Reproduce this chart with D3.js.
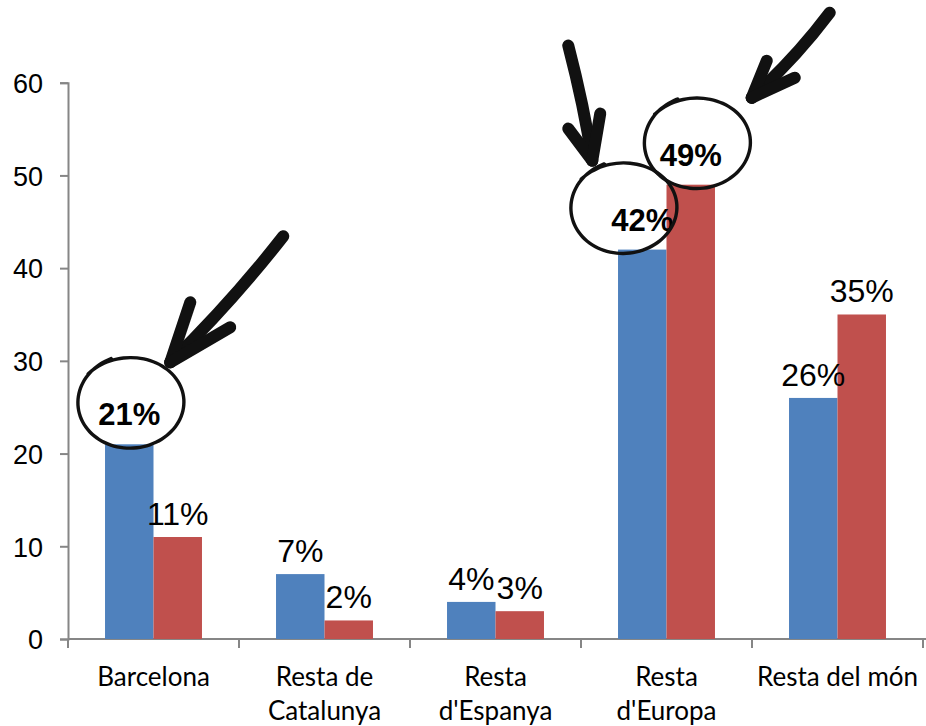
<!DOCTYPE html>
<html>
<head>
<meta charset="utf-8">
<script src="https://cdn.jsdelivr.net/npm/d3@7/dist/d3.min.js"></script>
<style>
  body { margin: 0; background: #fff; }
  svg text { fill: #000; }
</style>
</head>
<body>
<div id="vis"></div>
<script>
// chart data
var categories = ["Barcelona", "Resta de\nCatalunya", "Resta\nd'Espanya", "Resta\nd'Europa", "Resta del món"];
var seriesBlue = [21, 7, 4, 42, 26];
var seriesRed = [11, 2, 3, 49, 35];
var yTicks = [0, 10, 20, 30, 40, 50, 60];
// which labels were circled by hand: [category index, series index]
var circled = [[0, 0], [3, 0], [3, 1]];

var width = 926;
var height = 726;
var margin = { top: 82.7, right: 3, bottom: 87, left: 68 };

var colors = ["#4F81BD", "#C0504D"];
var axisColor = "#868686";
var ink = "#111";

var svg = d3.select("#vis").append("svg")
  .attr("width", width)
  .attr("height", height);

var x = d3.scaleBand()
  .domain(d3.range(categories.length))
  .range([margin.left, width - margin.right])
  .paddingInner(0.433)
  .paddingOuter(0.2165);

var xSeries = d3.scaleBand()
  .domain([0, 1])
  .range([0, x.bandwidth()]);

var y = d3.scaleLinear()
  .domain([0, 60])
  .range([height - margin.bottom, margin.top]);

// y axis
var yAxis = svg.append("g")
  .attr("transform", "translate(" + margin.left + ",0)")
  .call(d3.axisLeft(y).tickValues(yTicks).tickSize(8).tickPadding(17).tickFormat(d3.format("d")));
yAxis.select(".domain").attr("stroke", axisColor).attr("stroke-width", 2);
yAxis.selectAll(".tick line").attr("stroke", axisColor).attr("stroke-width", 2);
yAxis.selectAll(".tick text")
  .attr("font-family", "'Liberation Sans', Arial, sans-serif")
  .attr("font-size", 27)
  .attr("dy", "0.36em");

// x axis: ticks on the category boundaries
var step = x.step();
var boundaries = d3.range(categories.length + 1).map(function (i) { return margin.left + i * step; });
var xAxis = svg.append("g");
xAxis.append("line")
  .attr("x1", margin.left).attr("x2", width)
  .attr("y1", y(0)).attr("y2", y(0))
  .attr("stroke", axisColor).attr("stroke-width", 2);
xAxis.selectAll(".xtick").data(boundaries).enter().append("line")
  .attr("class", "xtick")
  .attr("x1", function (d) { return d; }).attr("x2", function (d) { return d; })
  .attr("y1", y(0)).attr("y2", y(0) + 9)
  .attr("stroke", axisColor).attr("stroke-width", 2);

var catLabels = xAxis.selectAll(".cat").data(categories).enter().append("text")
  .attr("class", "cat")
  .attr("text-anchor", "middle")
  .attr("font-family", "Lato, 'Open Sans', sans-serif")
  .attr("font-size", 26)
  .attr("transform", function (d, i) {
    return "translate(" + (x(i) + x.bandwidth() / 2) + "," + (y(0) + 47) + ")";
  });
catLabels.selectAll("tspan")
  .data(function (d) { return d.split("\n"); })
  .enter().append("tspan")
  .attr("x", 0)
  .attr("dy", function (d, i) { return i === 0 ? 0 : 34; })
  .text(function (d) { return d; });

// bars
var rows = categories.map(function (c, i) {
  return [
    { cat: i, s: 0, value: seriesBlue[i] },
    { cat: i, s: 1, value: seriesRed[i] }
  ];
});

function isCircled(d) {
  return circled.some(function (c) { return c[0] === d.cat && c[1] === d.s; });
}

var groups = svg.selectAll(".group").data(rows).enter().append("g")
  .attr("class", "group")
  .attr("transform", function (d, i) { return "translate(" + x(i) + ",0)"; });

groups.selectAll("rect").data(function (d) { return d; }).enter().append("rect")
  .attr("x", function (d) { return xSeries(d.s); })
  .attr("y", function (d) { return y(d.value); })
  .attr("width", xSeries.bandwidth())
  .attr("height", function (d) { return y(0) - y(d.value); })
  .attr("fill", function (d) { return colors[d.s]; });

// value labels
groups.selectAll(".val").data(function (d) { return d; }).enter().append("text")
  .attr("class", "val")
  .attr("text-anchor", "middle")
  .attr("font-family", "'Liberation Sans', Arial, sans-serif")
  .attr("font-size", function (d) { return isCircled(d) ? 31 : 32; })
  .attr("font-weight", function (d) { return isCircled(d) ? "bold" : "normal"; })
  .attr("x", function (d) { return xSeries(d.s) + xSeries.bandwidth() / 2; })
  .attr("y", function (d) { return y(d.value) - (isCircled(d) ? 19 : 12); })
  .text(function (d) { return d.value + "%"; });

// hand drawn marks: a loose ellipse round the label and a thick arrow
var arrowShapes = {
  "0-0": { dx: 1, tip: [40, -40], start: [153, -166], barbs: [[60, -100], [100, -75]] },
  "3-0": { dx: -19, tip: [-31, -47], start: [-55, -162], barbs: [[-55, -79], [-23, -94]] },
  "3-1": { dx: 6, tip: [55, -45], start: [133, -130], barbs: [[70, -82], [98, -65]] }
};

var sketch = svg.append("g").attr("class", "sketch");
var loop = d3.line().curve(d3.curveBasis);

circled.forEach(function (c) {
  var key = c[0] + "-" + c[1];
  var shape = arrowShapes[key];
  var value = c[1] === 0 ? seriesBlue[c[0]] : seriesRed[c[0]];
  var cx = x(c[0]) + xSeries(c[1]) + xSeries.bandwidth() / 2 + shape.dx;
  var cy = y(value) - 42;

  // ellipse that overshoots its start a little, like a pen stroke
  var pts = d3.range(0, 1.09, 0.02).map(function (t) {
    var a = -Math.PI * 0.62 - t * Math.PI * 2;
    var grow = 1 + 0.05 * t;
    return [cx + Math.cos(a) * 52 * grow, cy + Math.sin(a) * 47 * (2 - grow)];
  });
  sketch.append("path")
    .attr("d", loop(pts))
    .attr("fill", "none")
    .attr("stroke", ink)
    .attr("stroke-width", 3.4)
    .attr("stroke-linecap", "round");

  var tip = [cx + shape.tip[0], cy + shape.tip[1]];
  var start = [cx + shape.start[0], cy + shape.start[1]];
  var mid = [(tip[0] + start[0]) / 2 + 4, (tip[1] + start[1]) / 2 + 4];
  sketch.append("path")
    .attr("d", "M" + start + "Q" + mid + " " + tip)
    .attr("fill", "none")
    .attr("stroke", ink)
    .attr("stroke-width", 12)
    .attr("stroke-linecap", "round");
  shape.barbs.forEach(function (b) {
    sketch.append("path")
      .attr("d", "M" + [cx + b[0], cy + b[1]] + "L" + tip)
      .attr("fill", "none")
      .attr("stroke", ink)
      .attr("stroke-width", 12)
      .attr("stroke-linecap", "round");
  });
});
</script>
</body>
</html>
